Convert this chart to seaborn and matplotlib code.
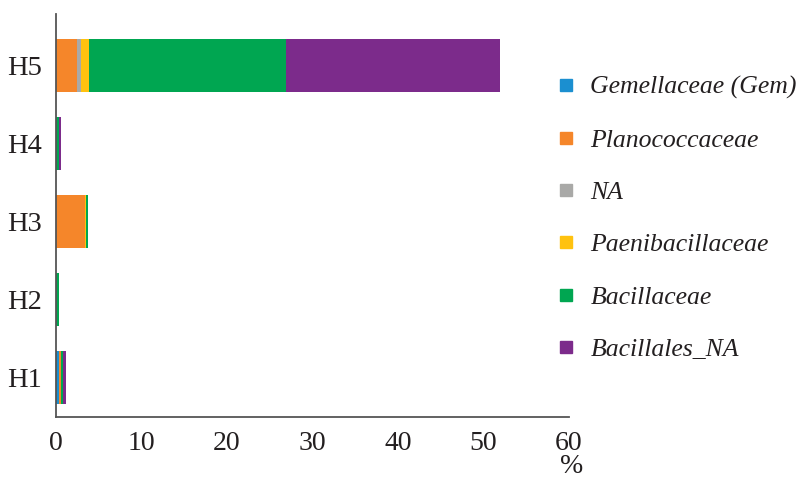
import matplotlib
matplotlib.use("Agg")
import matplotlib.pyplot as plt
from matplotlib.lines import Line2D
import numpy as np
import pandas as pd
import seaborn as sns

# Samples and family abundances (% of reads)
samples = ["H5", "H4", "H3", "H2", "H1"]
families = ["Gemellaceae (Gem)", "Planococcaceae", "NA",
            "Paenibacillaceae", "Bacillaceae", "Bacillales_NA"]
gemellaceae      = [0.0, 0.0, 0.0, 0.0, 0.3]
planococcaceae   = [2.5, 0.0, 3.4, 0.0, 0.3]
na_family        = [0.45, 0.0, 0.0, 0.0, 0.0]
paenibacillaceae = [0.95, 0.0, 0.15, 0.0, 0.0]
bacillaceae      = [22.95, 0.3, 0.15, 0.35, 0.27]
bacillales_na    = [25.05, 0.3, 0.0, 0.0, 0.25]
colors = ["#1b8fd0", "#f5862a", "#a9a9a7", "#ffc20f", "#00a651", "#7c2b8b"]

values = [gemellaceae, planococcaceae, na_family,
          paenibacillaceae, bacillaceae, bacillales_na]
df = pd.DataFrame(dict(zip(families, values)), index=samples)
cum = df.cumsum(axis=1)

sns.set_theme(style="white")
plt.rcParams["font.family"] = ["Liberation Serif", "DejaVu Serif"]

fig = plt.figure(figsize=(7.96, 4.78), dpi=100)
ax = fig.add_axes([56 / 796, 1 - 417 / 478, (569 - 56) / 796, (417 - 14) / 478])

# Stacked bars: draw cumulative totals from the outermost layer inwards
for fam, col in reversed(list(zip(families, colors))):
    d = pd.DataFrame({"sample": samples, "value": cum[fam].values})
    sns.barplot(data=d, x="value", y="sample", order=samples, color=col,
                orient="h", width=0.68, saturation=1, linewidth=0, ax=ax)

ax.set_xlim(0, 60)
ax.set_ylim(4.5, -0.654)
ax.set_xticks(np.arange(0, 61, 10))
ax.set_ylabel("")
ax.set_xlabel("")
for s in ["top", "right"]:
    ax.spines[s].set_visible(False)
for s in ["left", "bottom"]:
    ax.spines[s].set_color("#555555")
    ax.spines[s].set_linewidth(1.3)
ax.tick_params(axis="x", direction="in", length=8, width=1.1, color="#333333",
               labelsize=20, pad=10, labelcolor="#231f20")
ax.tick_params(axis="y", length=0, labelsize=20.5, pad=10, labelcolor="#231f20")
ax.text(1.005, -0.122, "%", transform=ax.transAxes, ha="center", va="center",
        fontsize=20, color="#231f20")

handles = [Line2D([], [], marker="s", linestyle="", markersize=8.5,
                  markerfacecolor=c, markeredgecolor=c) for c in colors]
fig.legend(handles, families, loc="upper left",
           bbox_to_anchor=(557 / 796, 1 - 76 / 478), frameon=False,
           prop={"style": "italic", "size": 18.5}, handlelength=0.7,
           handletextpad=0.6, labelspacing=1.14, borderpad=0, borderaxespad=0,
           labelcolor="#231f20")

fig.savefig("out.png", dpi=100)
